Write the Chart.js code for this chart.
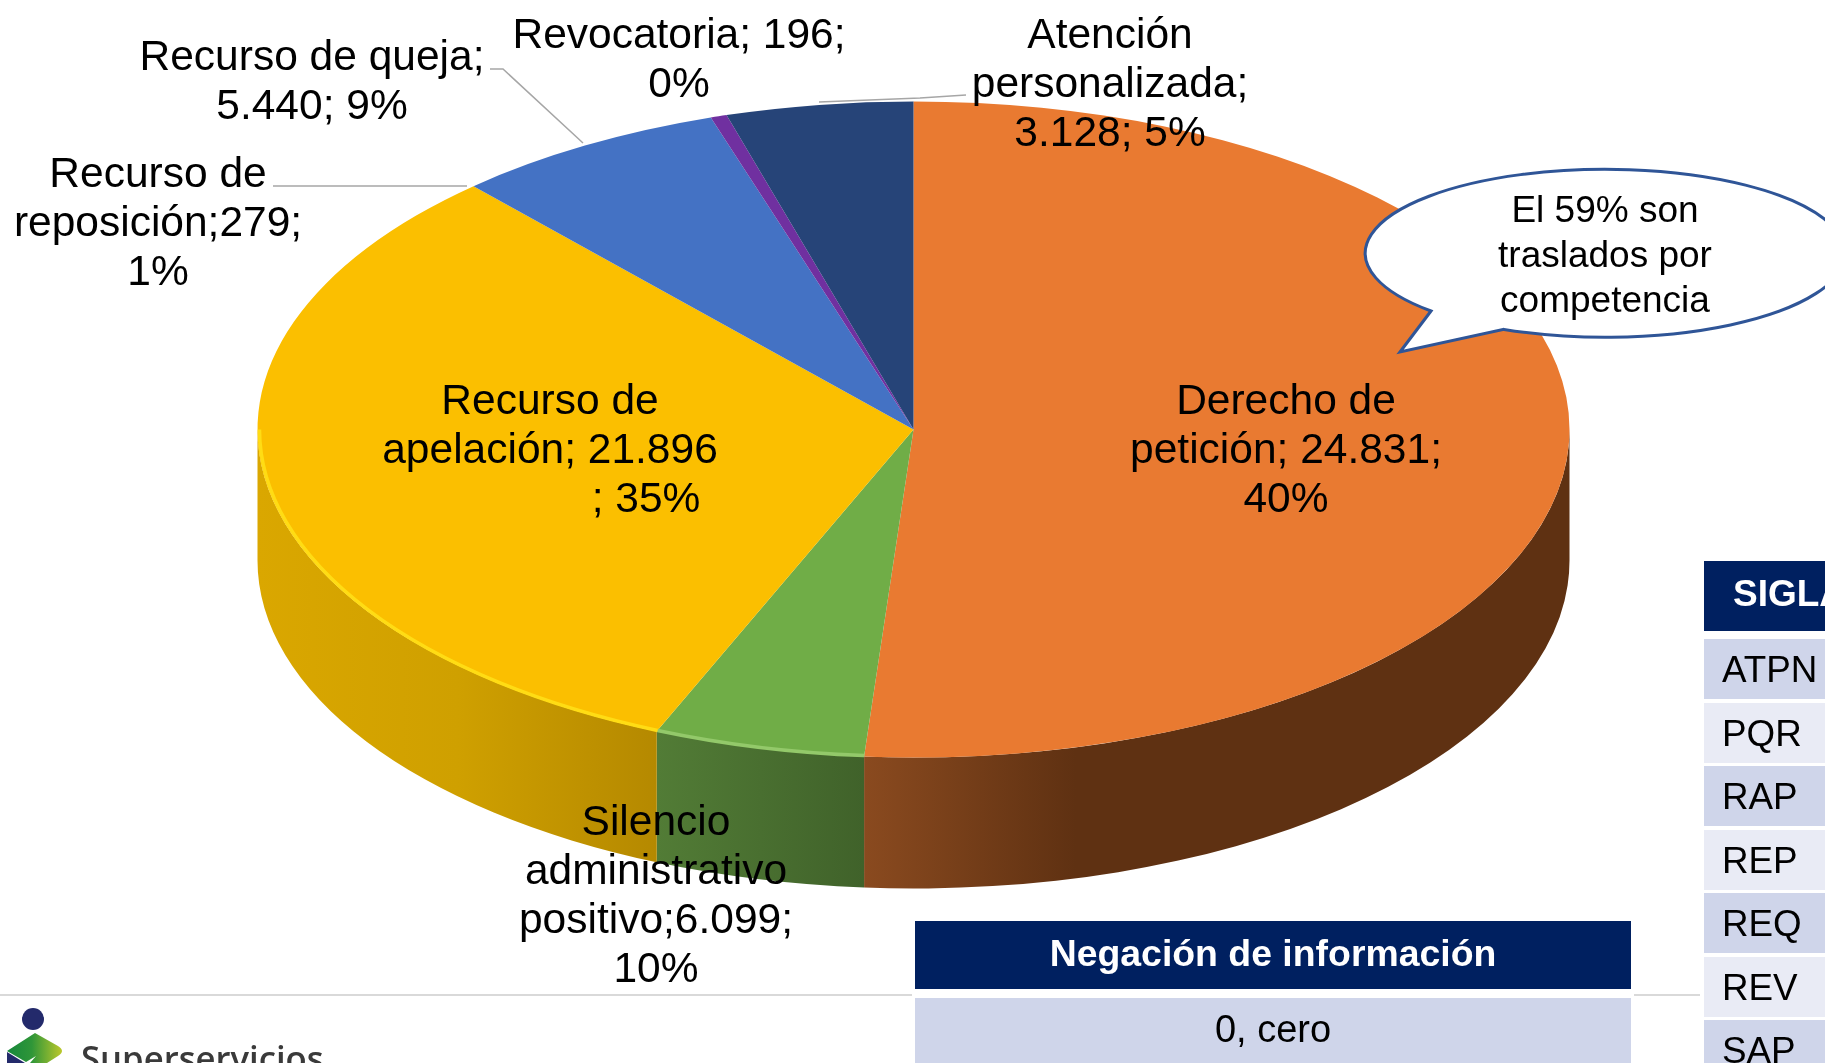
<!DOCTYPE html>
<html>
<head>
<meta charset="utf-8">
<script src="https://cdn.jsdelivr.net/npm/chart.js@4"></script>
<style>
html, body { margin: 0; padding: 0; background: #fff; }
#page { position: relative; width: 1825px; height: 1063px; overflow: hidden; font-family: "Liberation Sans", Arial, sans-serif; color: #000; }
#page canvas, #page svg { position: absolute; left: 0; top: 0; }
.lbl { position: absolute; font-size: 42.5px; line-height: 49px; white-space: nowrap; text-align: center; transform: translateX(-50%); }
.cell { position: absolute; white-space: nowrap; overflow: hidden; }
</style>
</head>
<body>
<div id="page">
  <canvas id="pie" width="1825" height="1063"></canvas>
  <svg width="1825" height="1063">
    <defs>
      <linearGradient id="logoGreen" x1="0" x2="1" y1="0" y2="0">
        <stop offset="0" stop-color="#16873c"/><stop offset="0.45" stop-color="#2f9638"/><stop offset="1" stop-color="#bcc82c"/>
      </linearGradient>
    </defs>
    <!-- leader lines -->
    <polyline points="490,69 503,69 583,143" fill="none" stroke="#a6a6a6" stroke-width="1.5"/>
    <polyline points="273,186 467,186" fill="none" stroke="#a6a6a6" stroke-width="1.5"/>
    <polyline points="819,102 920,98 966,95" fill="none" stroke="#a6a6a6" stroke-width="1.5"/>
    <!-- speech bubble -->
    <path d="M1431 311 L1400 352 L1504 329.4 A240 84 0 1 0 1431 311 Z" fill="#fff" stroke="#2f5597" stroke-width="3"/>
    <!-- footer rule -->
    <line x1="0" y1="995" x2="912" y2="995" stroke="#d9d9d9" stroke-width="2"/>
    <line x1="1634" y1="995" x2="1700" y2="995" stroke="#d9d9d9" stroke-width="2"/>
    <!-- logo -->
    <circle cx="33" cy="1019" r="11" fill="#232a6b"/>
    <path d="M7 1051 L35 1033 L58 1046 Q66 1051 58 1056 L47 1063 L30 1063 L36 1056 L26 1062 Z" fill="url(#logoGreen)"/>
    <path d="M7 1052 L25 1063 L7 1063 Z" fill="#232a6b"/>
  </svg>
  <div id="overlay"></div>
</div>
<script>
// names and numbers printed on the labels
const categories = ['Derecho de petición', 'Silencio administrativo positivo', 'Recurso de apelación', 'Recurso de queja', 'Revocatoria', 'Atención personalizada'];
const labelValues = [24831, 6099, 21896, 5440, 196, 3128];
const labelPercents = [40, 10, 35, 9, 0, 5];
// size of each slice as drawn in the picture, in %. It does not follow the printed numbers
const sliceShares = [51.2, 5.2, 31.9, 6.7, 0.4, 4.6];

const sliceColors = ['#E97A31', '#70AD47', '#FBBF00', '#4472C4', '#7030A0', '#264478'];
const rimColors = ['#F58C45', '#93C96A', '#FFDC14', '#4472C4', '#7030A0', '#264478'];
const wallStops = [
    [[0, '#8A4A1F'], [0.3, '#5F3112'], [1, '#5F3112']],
    [[0, '#527C36'], [1, '#40622A']],
    [[0, '#DAA700'], [0.5, '#CFA000'], [1, '#B58900']],
    [], [], []
];

const siglas = ['ATPN', 'PQR', 'RAP', 'REP', 'REQ', 'REV', 'SAP'];

const squash = 0.5;   // the pie is seen from an angle
const depth = 131;    // height of the side wall

const pie3d = {
    id: 'pie3d',
    beforeDatasetsDraw(chart) {
        let ctx = chart.ctx;
        let arcs = chart.getDatasetMeta(0).data;
        // side wall first, only the part that faces us
        arcs.forEach(function(arc, i) {
            let a0 = Math.max(arc.startAngle, 0);
            let a1 = Math.min(arc.endAngle, Math.PI);
            if (a1 <= a0 || !wallStops[i].length) return;
            let rx = arc.outerRadius, ry = rx * squash;
            let xRight = arc.x + rx * Math.cos(a0);
            let xLeft = arc.x + rx * Math.cos(a1);
            let grad = ctx.createLinearGradient(xLeft, 0, xRight, 0);
            wallStops[i].forEach(function(s) { grad.addColorStop(s[0], s[1]); });
            ctx.beginPath();
            ctx.ellipse(arc.x, arc.y, rx, ry, 0, a0, a1);
            ctx.ellipse(arc.x, arc.y + depth, rx, ry, 0, a1, a0, true);
            ctx.closePath();
            ctx.fillStyle = grad;
            ctx.fill();
        });
        // the library then draws the arcs into a flattened space
        let first = arcs[0];
        ctx.save();
        ctx.translate(first.x, first.y);
        ctx.scale(1, squash);
        ctx.translate(-first.x, -first.y);
    },
    afterDatasetsDraw(chart) {
        let ctx = chart.ctx;
        ctx.restore();
        // bright rim along the front edge
        chart.getDatasetMeta(0).data.forEach(function(arc, i) {
            let a0 = Math.max(arc.startAngle, 0);
            let a1 = Math.min(arc.endAngle, Math.PI);
            if (a1 <= a0 || i == 0) return;
            ctx.beginPath();
            ctx.ellipse(arc.x, arc.y, arc.outerRadius - 2, (arc.outerRadius - 2) * squash, 0, a0, a1);
            ctx.strokeStyle = rimColors[i];
            ctx.lineWidth = 3.5;
            ctx.stroke();
        });
    }
};

new Chart(document.getElementById('pie'), {
    type: 'pie',
    data: {
        labels: categories,
        datasets: [{
            data: sliceShares,
            backgroundColor: sliceColors,
            borderWidth: 0,
            clip: 3000
        }]
    },
    options: {
        responsive: false,
        animation: false,
        devicePixelRatio: 1,
        radius: 656,
        layout: { padding: { left: 2, bottom: 204 } },
        plugins: { legend: { display: false }, tooltip: { enabled: false } }
    },
    plugins: [pie3d]
});

// text goes on top of the canvas
const overlay = document.getElementById('overlay');

function fmt(n) {
    return String(n).replace(/\B(?=(\d{3})+$)/g, '.');
}

function addLabel(x, top, lines) {
    let d = document.createElement('div');
    d.className = 'lbl';
    d.style.left = x + 'px';
    d.style.top = top + 'px';
    d.innerHTML = lines.join('<br>');
    overlay.appendChild(d);
}

function addCell(x, y, w, h, bg, text, css) {
    let d = document.createElement('div');
    d.className = 'cell';
    d.style.cssText = 'left:' + x + 'px;top:' + y + 'px;width:' + w + 'px;height:' + h + 'px;line-height:' + h + 'px;background:' + bg + ';' + (css || '');
    d.textContent = text;
    overlay.appendChild(d);
}

addLabel(1286, 375, ['Derecho de', 'petición; ' + fmt(labelValues[0]) + ';', labelPercents[0] + '%']);
addLabel(656, 796, ['Silencio', 'administrativo', 'positivo;' + fmt(labelValues[1]) + ';', labelPercents[1] + '%']);
addLabel(550, 375, ['Recurso de', 'apelación; ' + fmt(labelValues[2])]);
addLabel(646, 473, ['; ' + labelPercents[2] + '%']);
addLabel(312, 31, ['Recurso de queja;', fmt(labelValues[3]) + '; ' + labelPercents[3] + '%']);
addLabel(679, 9, ['Revocatoria; ' + labelValues[4] + ';', labelPercents[4] + '%']);
addLabel(1110, 9, ['Atención', 'personalizada;', fmt(labelValues[5]) + '; ' + labelPercents[5] + '%']);
addLabel(158, 148, ['Recurso de', 'reposición;279;', '1%']);

// speech bubble text
let bubble = document.createElement('div');
bubble.style.cssText = 'position:absolute;left:1455px;top:187px;width:300px;text-align:center;font-size:37px;line-height:45px;';
bubble.innerHTML = 'El 59% son<br>traslados por<br>competencia';
overlay.appendChild(bubble);

// SIGLA table on the right
addCell(1704, 561, 121, 70, '#002060', 'SIGLA', 'color:#fff;font-weight:bold;font-size:37px;text-indent:29px;line-height:66px;');
siglas.forEach(function(s, i) {
    addCell(1704, 639 + i * 63.5, 121, 60, i % 2 == 0 ? '#CFD5EA' : '#E9EBF5', s, 'font-size:36.8px;text-indent:18px;line-height:61px;');
});

// negacion table
addCell(915, 921, 716, 68, '#002060', 'Negación de información', 'color:#fff;font-weight:bold;font-size:37.4px;text-align:center;line-height:64px;');
addCell(915, 998, 716, 65, '#CFD5EA', '0, cero', 'font-size:38px;text-align:center;line-height:62px;');

// logo name
let logo = document.createElement('div');
logo.style.cssText = 'position:absolute;left:81px;top:1034px;font-family:"Open Sans";font-weight:600;font-size:34.7px;line-height:48px;color:#3a3a3a;white-space:nowrap;';
logo.textContent = 'Superservicios';
overlay.appendChild(logo);
</script>
</body>
</html>
